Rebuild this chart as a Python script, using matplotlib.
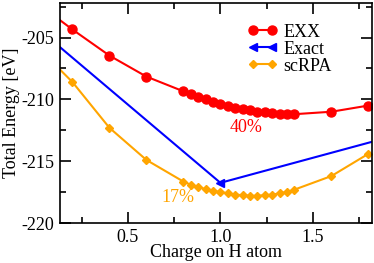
import numpy as np
import matplotlib
matplotlib.use("Agg")
import matplotlib.pyplot as plt
from matplotlib.ticker import MultipleLocator

plt.rcParams['font.family'] = ['Liberation Serif', 'DejaVu Serif']
plt.rcParams['axes.unicode_minus'] = False

# Данные
exx_x = [0.1, 0.2, 0.4, 0.6, 0.80, 0.84, 0.88, 0.92, 0.96, 1.00, 1.04, 1.08,
         1.12, 1.16, 1.20, 1.24, 1.28, 1.32, 1.36, 1.40, 1.60, 1.80]
exx_y = [-203.23, -204.35, -206.46, -208.16, -209.35, -209.6, -209.8, -210.0,
         -210.2, -210.4, -210.55, -210.7, -210.8, -210.9, -211.0, -211.05,
         -211.1, -211.15, -211.2, -211.2, -211.0, -210.5]

exact_x = [0.0, 1.0, 2.0]
exact_y = [-204.1, -216.75, -212.7]

rpa_x = exx_x
rpa_y = [-207.1, -208.6, -212.3, -214.9, -216.65, -216.9, -217.1, -217.25,
         -217.4, -217.5, -217.6, -217.7, -217.75, -217.8, -217.8, -217.75,
         -217.7, -217.6, -217.5, -217.3, -216.2, -214.4]

red = '#ff0000'
blue = '#0000ff'
orange = '#ffa500'
fs = 13

fig = plt.figure(figsize=(3.74, 2.63), dpi=100)
ax = fig.add_axes([0.160, 0.152, 0.835, 0.837])

ax.plot(exx_x, exx_y, color=red, lw=1.5, marker='o', ms=6.5, label='EXX')
ax.plot(exact_x, exact_y, color=blue, lw=1.5, marker='<', ms=6, label='Exact')
ax.plot(rpa_x, rpa_y, color=orange, lw=1.5, marker='D', ms=4.5, label='scRPA')

ax.set_xlim(0.132, 1.82)
ax.set_ylim(-220, -202.2)
ax.xaxis.set_major_locator(MultipleLocator(0.5))
ax.xaxis.set_minor_locator(MultipleLocator(0.25))
ax.yaxis.set_major_locator(MultipleLocator(5))
ax.yaxis.set_minor_locator(MultipleLocator(2.5))
ax.xaxis.set_major_formatter(lambda v, p: f"{v:.1f}")
ax.yaxis.set_major_formatter(lambda v, p: f"{v:.0f}")
ax.tick_params(which='both', direction='in', top=True, right=True, width=1.2,
               labelsize=fs)
ax.tick_params(which='major', length=8, pad=4)
ax.tick_params(which='minor', length=4)
for s in ax.spines.values():
    s.set_linewidth(1.2)

ax.set_xlabel('Charge on H atom', fontsize=fs, labelpad=-1)
ax.set_ylabel('Total Energy [eV]', fontsize=fs, labelpad=1)

ax.text(1.14, -212.3, '40%', color=red, fontsize=fs, ha='center', va='center')
ax.text(0.77, -217.95, '17%', color=orange, fontsize=fs, ha='center', va='center')

ax.legend(loc='upper left', bbox_to_anchor=(0.6, 0.905), frameon=False,
          numpoints=2, handlelength=1.7, handletextpad=0.3, labelspacing=0.0,
          fontsize=fs, borderaxespad=0, borderpad=0)

fig.savefig('out.png', dpi=100)
